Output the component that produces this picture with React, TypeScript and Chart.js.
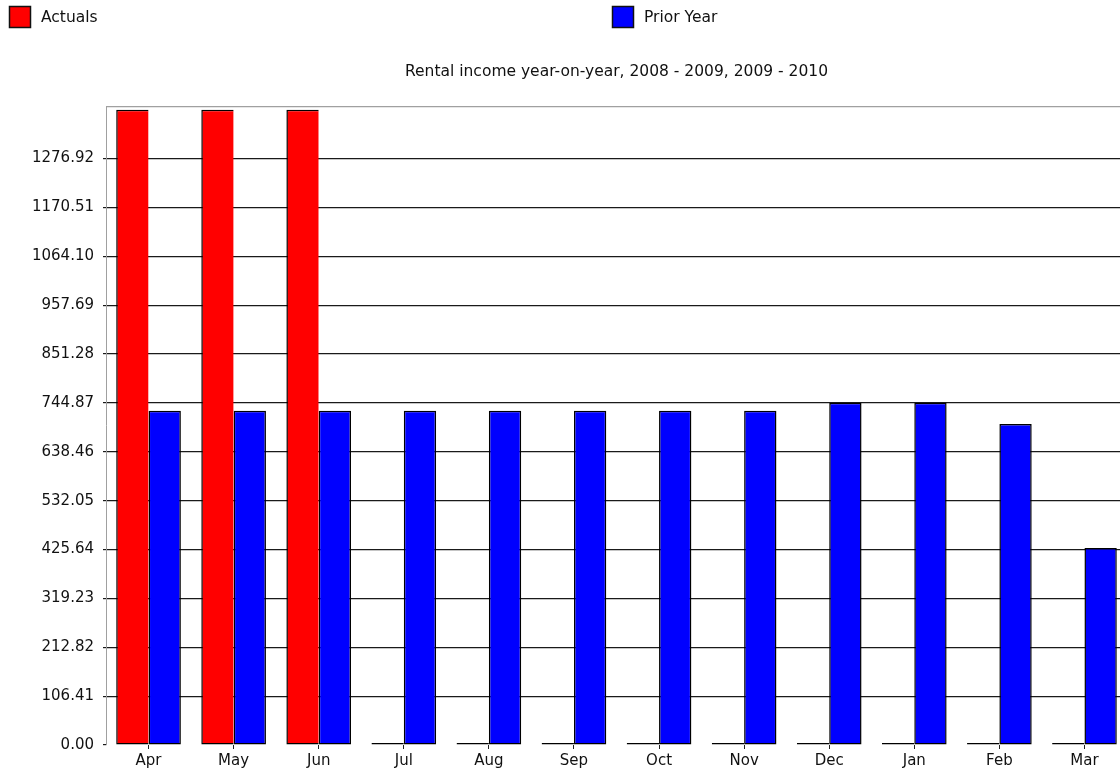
import React, { useEffect, useRef } from "react";
import { Chart, registerables } from "chart.js";

Chart.register(...registerables);

const categories = ["Apr", "May", "Jun", "Jul", "Aug", "Sep", "Oct", "Nov", "Dec", "Jan", "Feb", "Mar"];
const actuals = [1383, 1383, 1383, 0, 0, 0, 0, 0, 0, 0, 0, 0];
const priorYear = [728, 728, 728, 728, 728, 728, 728, 728, 745, 745, 699, 429];
const yTickValues = [0, 106.41, 212.82, 319.23, 425.64, 532.05, 638.46, 744.87, 851.28, 957.69, 1064.1, 1170.51, 1276.92];
const yTickLabels = ["0.00", "106.41", "212.82", "319.23", "425.64", "532.05", "638.46", "744.87", "851.28", "957.69", "1064.10", "1170.51", "1276.92"];
const yMax = 1390;
const titleText = "Rental income year-on-year, 2008 - 2009, 2009 - 2010";

const FONT = '"DejaVu Sans", sans-serif';

const columnLegend = {
  id: "columnLegend",
  afterDraw(chart: any) {
    const ctx = chart.ctx;
    chart.data.datasets.forEach((ds: any, i: number) => {
      const x = 9 + i * 603;
      const y = 6;
      ctx.save();
      ctx.fillStyle = ds.backgroundColor;
      ctx.fillRect(x, y, 22, 22);
      ctx.strokeStyle = "#111";
      ctx.lineWidth = 1.5;
      ctx.strokeRect(x + 0.5, y + 0.5, 21, 21);
      ctx.font = "15.5px " + FONT;
      ctx.fillStyle = "#111";
      ctx.textBaseline = "middle";
      ctx.textAlign = "left";
      ctx.fillText(ds.label, x + 32, y + 12);
      ctx.restore();
    });
  },
};

export default function App() {
  const ref = useRef<HTMLCanvasElement | null>(null);

  useEffect(() => {
    if (!ref.current) return;
    Chart.defaults.font.family = FONT;
    const chart = new Chart(ref.current, {
      type: "bar",
      data: {
        labels: categories,
        datasets: [
          {
            label: "Actuals",
            data: actuals,
            backgroundColor: "#ff0000",
            borderColor: "#000",
            borderWidth: 1.5,
            borderSkipped: "right",
            minBarLength: 2,
          },
          {
            label: "Prior Year",
            data: priorYear,
            backgroundColor: "#0000ff",
            borderColor: "#000",
            borderWidth: 1.5,
            borderSkipped: false,
          },
        ],
      },
      options: {
        animation: false,
        responsive: false,
        devicePixelRatio: 1,
        layout: { padding: { top: 0, right: 13, bottom: 0, left: 0 } },
        datasets: { bar: { categoryPercentage: 0.76, barPercentage: 1 } },
        plugins: {
          legend: { display: false },
          tooltip: { enabled: false },
          title: {
            display: true,
            text: titleText,
            fullSize: false,
            color: "#111",
            font: { size: 15.5, weight: "normal", family: FONT, lineHeight: 1.2 },
            padding: { top: 63, bottom: 25 },
          },
        },
        scales: {
          x: {
            grid: {
              display: true,
              drawOnChartArea: false,
              drawTicks: true,
              tickLength: 4,
              tickColor: "#222",
              offset: false,
            },
            border: { display: false },
            ticks: { color: "#111", font: { size: 15 }, padding: 3, maxRotation: 0, autoSkip: false },
            afterFit: (scale: any) => {
              scale.height = 27;
            },
          },
          y: {
            min: 0,
            max: yMax,
            afterBuildTicks: (scale: any) => {
              scale.ticks = [...yTickValues.map((v) => ({ value: v })), { value: yMax }];
            },
            afterFit: (scale: any) => {
              scale.width = 106;
            },
            grid: {
              color: (c: any) =>
                c.tick && c.tick.value === 0 ? "rgba(0,0,0,0)" : c.tick && c.tick.value === yMax ? "#a0a0a0" : "#1a1a1a",
              tickColor: (c: any) => (c.tick && c.tick.value === yMax ? "rgba(0,0,0,0)" : "#1a1a1a"),
              tickLength: 3,
              lineWidth: 1.2,
            },
            border: { display: true, color: "#a0a0a0", width: 1 },
            ticks: {
              color: "#111",
              font: { size: 15 },
              padding: 9,
              callback: (_v: any, index: number) => (index < yTickLabels.length ? yTickLabels[index] : ""),
            },
          },
        },
      },
      plugins: [columnLegend],
    });
    return () => chart.destroy();
  }, []);

  return (
    <div style={{ position: "fixed", left: 0, top: 0, width: 1120, height: 772, overflow: "hidden", background: "#fff" }}>
      <canvas ref={ref} width={1140} height={772} style={{ display: "block" }} />
    </div>
  );
}
